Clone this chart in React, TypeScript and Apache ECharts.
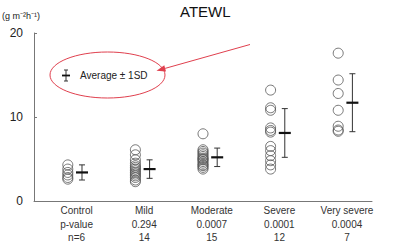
import React, { useEffect, useRef } from "react";
import * as echarts from "echarts";

const categories = ["Control", "Mild", "Moderate", "Severe", "Very severe"];
const pValues = ["p-value", "0.294", "0.0007", "0.0001", "0.0004"];
const counts = ["n=6", "14", "15", "12", "7"];

const controlValues = [4.3, 3.8, 3.4, 3.1, 2.8, 2.6];
const mildValues = [6.1, 5.5, 4.9, 4.5, 4.2, 4.0, 3.8, 3.6, 3.4, 3.2, 3.0, 2.8, 2.5, 2.3];
const moderateValues = [8.0, 6.1, 5.9, 5.7, 5.5, 5.3, 5.1, 5.0, 4.9, 4.7, 4.5, 4.3, 4.2, 4.0, 3.8];
const severeValues = [13.2, 11.1, 10.8, 8.7, 8.4, 8.2, 6.5, 6.0, 5.4, 4.8, 4.3, 3.8];
const verySevereValues = [17.6, 14.4, 12.8, 10.8, 8.9, 8.45, 8.3];

const means = [3.4, 3.8, 5.2, 8.1, 11.7];
const sds = [0.9, 1.1, 1.1, 2.9, 3.45];

const yTicks = [0, 10, 20];

const groups = [controlValues, mildValues, moderateValues, severeValues, verySevereValues];

export default function App() {
  const ref = useRef<HTMLDivElement>(null);
  useEffect(() => {
    if (!ref.current) return;
    const chart = echarts.init(ref.current, undefined, { renderer: "svg" });
    const font = "'Liberation Sans', Arial, sans-serif";
    const meanOffset = 0.21;
    const labelOffset = 0.13;

    const scatterData: number[][] = [];
    groups.forEach((g, i) => g.forEach((v) => scatterData.push([i + 1, v])));

    const errData = means.map((m, i) => [i + 1 + meanOffset, m, sds[i]]);

    // arrow geometry (annotation)
    const tip = [156.5, 70.8];
    const start = [250, 44.5];
    const dx = tip[0] - start[0];
    const dy = tip[1] - start[1];
    const len = Math.sqrt(dx * dx + dy * dy);
    const ux = dx / len;
    const uy = dy / len;
    const hb = [tip[0] - ux * 9, tip[1] - uy * 9];
    const px = -uy * 3.2;
    const py = ux * 3.2;

    chart.setOption({
      animation: false,
      title: {
        text: "ATEWL",
        left: 180,
        top: 4,
        padding: 0,
        textStyle: { fontFamily: font, fontSize: 15, fontWeight: "normal", color: "#111" },
      },
      grid: { left: 34, right: 28, top: 33, bottom: 46 },
      xAxis: {
        type: "value",
        min: 0.5,
        max: 5.5,
        axisLine: { show: true, lineStyle: { color: "#777", width: 1 } },
        axisTick: { show: false },
        splitLine: { show: false },
        axisLabel: {
          customValues: categories.map((_, i) => i + 1 + labelOffset),
          formatter: (v: number) => {
            const i = Math.round(v - labelOffset) - 1;
            return `${categories[i]}\n${pValues[i]}\n${counts[i]}`;
          },
          fontFamily: font,
          fontSize: 10,
          lineHeight: 13.5,
          color: "#333",
          margin: 3,
        },
      },
      yAxis: {
        type: "value",
        min: yTicks[0],
        max: yTicks[yTicks.length - 1],
        interval: 10,
        axisLine: { show: true, lineStyle: { color: "#777", width: 1 } },
        axisTick: { show: true, inside: true, length: 3, lineStyle: { color: "#777" } },
        splitLine: { show: false },
        axisLabel: { fontFamily: font, fontSize: 12, color: "#222", margin: 11 },
      },
      series: [
        {
          type: "scatter",
          data: scatterData,
          symbol: "circle",
          symbolSize: 10,
          itemStyle: { color: "rgba(0,0,0,0)", borderColor: "#555", borderWidth: 1 },
        },
        {
          type: "custom",
          data: errData,
          renderItem: (params: any, api: any) => {
            const x = api.value(0);
            const m = api.value(1);
            const s = api.value(2);
            const pc = api.coord([x, m]);
            const pt = api.coord([x, m + s]);
            const pb = api.coord([x, m - s]);
            const cap = 3;
            const half = 6;
            const st = { stroke: "#333", lineWidth: 1 };
            return {
              type: "group",
              children: [
                { type: "line", shape: { x1: pc[0], y1: pt[1], x2: pc[0], y2: pb[1] }, style: st },
                { type: "line", shape: { x1: pc[0] - cap, y1: pt[1], x2: pc[0] + cap, y2: pt[1] }, style: st },
                { type: "line", shape: { x1: pc[0] - cap, y1: pb[1], x2: pc[0] + cap, y2: pb[1] }, style: st },
                {
                  type: "line",
                  shape: { x1: pc[0] - half, y1: pc[1], x2: pc[0] + half, y2: pc[1] },
                  style: { stroke: "#111", lineWidth: 2.2 },
                },
              ],
            };
          },
        },
      ],
      graphic: [
        {
          type: "text",
          left: 2,
          top: 11,
          style: { text: "(g m⁻²h⁻¹)", fontFamily: font, fontSize: 9, fill: "#222" },
        },
        {
          type: "ellipse",
          shape: { cx: 107.5, cy: 75, rx: 57.5, ry: 23 },
          style: { fill: "none", stroke: "#e0404e", lineWidth: 1 },
        },
        {
          type: "line",
          shape: { x1: start[0], y1: start[1], x2: hb[0], y2: hb[1] },
          style: { stroke: "#e0404e", lineWidth: 1 },
        },
        {
          type: "polygon",
          shape: {
            points: [
              tip,
              [hb[0] + px, hb[1] + py],
              [hb[0] - px, hb[1] - py],
            ],
          },
          style: { fill: "#e0404e" },
        },
        // legend icon: mean ± SD
        { type: "line", shape: { x1: 66, y1: 70, x2: 66, y2: 81 }, style: { stroke: "#333", lineWidth: 1 } },
        { type: "line", shape: { x1: 64, y1: 70, x2: 68, y2: 70 }, style: { stroke: "#333", lineWidth: 1 } },
        { type: "line", shape: { x1: 64, y1: 81, x2: 68, y2: 81 }, style: { stroke: "#333", lineWidth: 1 } },
        { type: "line", shape: { x1: 62, y1: 75.5, x2: 70, y2: 75.5 }, style: { stroke: "#111", lineWidth: 1.8 } },
        {
          type: "text",
          left: 80,
          top: 70,
          style: { text: "Average ± 1SD", fontFamily: font, fontSize: 10, fill: "#222" },
        },
      ],
    });
    return () => chart.dispose();
  }, []);
  return <div ref={ref} style={{ width: 400, height: 247, position: "absolute", left: 0, top: 0 }} />;
}
